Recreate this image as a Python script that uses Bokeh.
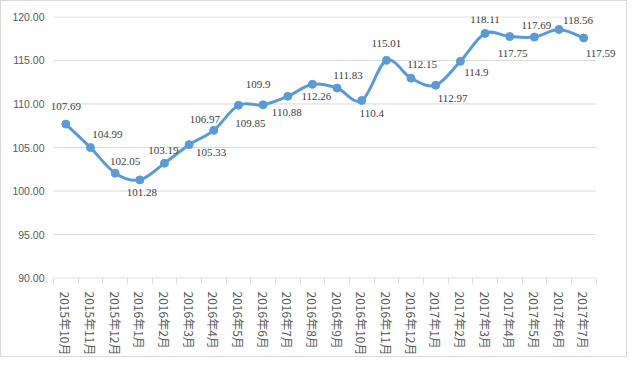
from bokeh.plotting import figure
from bokeh.models import FixedTicker, LinearAxis, NumeralTickFormatter, Range1d, ColumnDataSource, LabelSet
from bokeh.embed import file_html
from bokeh.resources import INLINE

months = ["2015年10月", "2015年11月", "2015年12月",
          "2016年1月", "2016年2月", "2016年3月", "2016年4月", "2016年5月", "2016年6月",
          "2016年7月", "2016年8月", "2016年9月", "2016年10月", "2016年11月", "2016年12月",
          "2017年1月", "2017年2月", "2017年3月", "2017年4月", "2017年5月", "2017年6月", "2017年7月"]
values = [107.69, 104.99, 102.05, 101.28, 103.19, 105.33, 106.97, 109.85, 109.90, 110.88, 112.26,
          111.83, 110.40, 115.01, 112.97, 112.15, 114.90, 118.11, 117.75, 117.69, 118.56, 117.59]
label_text = ["107.69", "104.99", "102.05", "101.28", "103.19", "105.33", "106.97", "109.85", "109.9",
              "110.88", "112.26", "111.83", "110.4", "115.01", "112.15", "112.97", "114.9", "118.11",
              "117.75", "117.69", "118.56", "117.59"]
y_ticks = [90, 95, 100, 105, 110, 115, 120]

# label placement (pixels) - style only
label_dx = [0, 17, 10, 2, -1, 22, -9, 12, -5, -1, 4, 11, 10, 0, 11, 17, 16, 0, 3, 2, 19, 17]
label_dy = [-18, -13, -12, 13, -13, 8, -11, 18, -20, 16, 12, -13, 13, -17, -14, 13, 11, -14, 17, -12, -9, 16]

BLUE = "#5B9BD5"
GRID = "#d9d9d9"

n = len(months)
xs = [i + 0.5 for i in range(n)]

# Smooth line (Catmull-Rom as cubic Bezier segments)
x0, y0, x1, y1, cx0, cy0, cx1, cy1 = [], [], [], [], [], [], [], []
for i in range(n - 1):
    p0 = (xs[max(i - 1, 0)], values[max(i - 1, 0)])
    p1 = (xs[i], values[i])
    p2 = (xs[i + 1], values[i + 1])
    p3 = (xs[min(i + 2, n - 1)], values[min(i + 2, n - 1)])
    x0.append(p1[0]); y0.append(p1[1])
    x1.append(p2[0]); y1.append(p2[1])
    cx0.append(p1[0] + (p2[0] - p0[0]) / 6.0)
    cy0.append(p1[1] + (p2[1] - p0[1]) / 6.0)
    cx1.append(p2[0] - (p3[0] - p1[0]) / 6.0)
    cy1.append(p2[1] - (p3[1] - p1[1]) / 6.0)

# frame is wider than the category area so data labels near the ends are not clipped
PX_PER_CAT = 542.5 / 22
LEFT, RIGHT, TOP, BOTTOM = 44, 7, 15, 69
W, H = 627, 357
x_start = -8 / PX_PER_CAT
x_end = x_start + (W - LEFT - RIGHT) / PX_PER_CAT

p = figure(width=W, height=H, x_range=Range1d(x_start, x_end),
           y_range=Range1d(89.95, 120.05),
           output_backend="svg", toolbar_location=None, x_axis_type=None,
           min_border_left=LEFT, min_border_right=RIGHT, min_border_top=TOP, min_border_bottom=BOTTOM)
p.outline_line_color = None
p.background_fill_color = "white"
p.border_fill_color = "white"
p.styles = {"border": "1px solid #d9d9d9"}

p.yaxis.ticker = FixedTicker(ticks=y_ticks)
p.yaxis.formatter = NumeralTickFormatter(format="0.00")
p.yaxis.axis_line_color = None
p.yaxis.major_tick_line_color = None
p.yaxis.minor_tick_line_color = None
p.yaxis.major_tick_out = 0
p.yaxis.major_tick_in = 0
p.yaxis.major_label_standoff = 1
p.yaxis.major_label_text_font = "Liberation Sans"
p.yaxis.major_label_text_font_size = "10.5px"
p.yaxis.major_label_text_color = "#595959"
p.ygrid.grid_line_color = None

# horizontal gridlines (incl. the category axis line at 90) over the category span only
p.segment(x0=[0] * len(y_ticks), x1=[n] * len(y_ticks), y0=y_ticks, y1=y_ticks,
          line_color=GRID, line_width=1)

ax = LinearAxis(ticker=FixedTicker(ticks=xs, minor_ticks=list(range(n + 1))))
ax.major_label_overrides = {x: m for x, m in zip(xs, months)}
ax.major_label_orientation = -3.14159265 / 2
ax.axis_line_color = None
ax.major_tick_line_color = None
ax.major_tick_in = 0
ax.major_tick_out = 0
ax.minor_tick_line_color = GRID
ax.minor_tick_in = 0
ax.minor_tick_out = 5
ax.major_label_standoff = 8
ax.major_label_text_font = "Noto Sans CJK SC"
ax.major_label_text_font_size = "12px"
ax.major_label_text_color = "#595959"
p.add_layout(ax, "below")

seg = ColumnDataSource(dict(x0=x0, y0=y0, x1=x1, y1=y1, cx0=cx0, cy0=cy0, cx1=cx1, cy1=cy1))
p.bezier(x0="x0", y0="y0", x1="x1", y1="y1", cx0="cx0", cy0="cy0", cx1="cx1", cy1="cy1",
         source=seg, line_color=BLUE, line_width=3, line_cap="round")

pts = ColumnDataSource(dict(x=xs, y=values, label=label_text, dx=label_dx, dy=[-d for d in label_dy]))
p.scatter(x="x", y="y", source=pts, size=8, fill_color=BLUE, line_color=BLUE)
labels = LabelSet(x="x", y="y", text="label", x_offset="dx", y_offset="dy", source=pts,
                  text_align="center", text_baseline="middle", text_font="Liberation Sans",
                  text_font_size="11px", text_color="#404040")
p.add_layout(labels)

open("out.html", "w").write(file_html(p, INLINE))
